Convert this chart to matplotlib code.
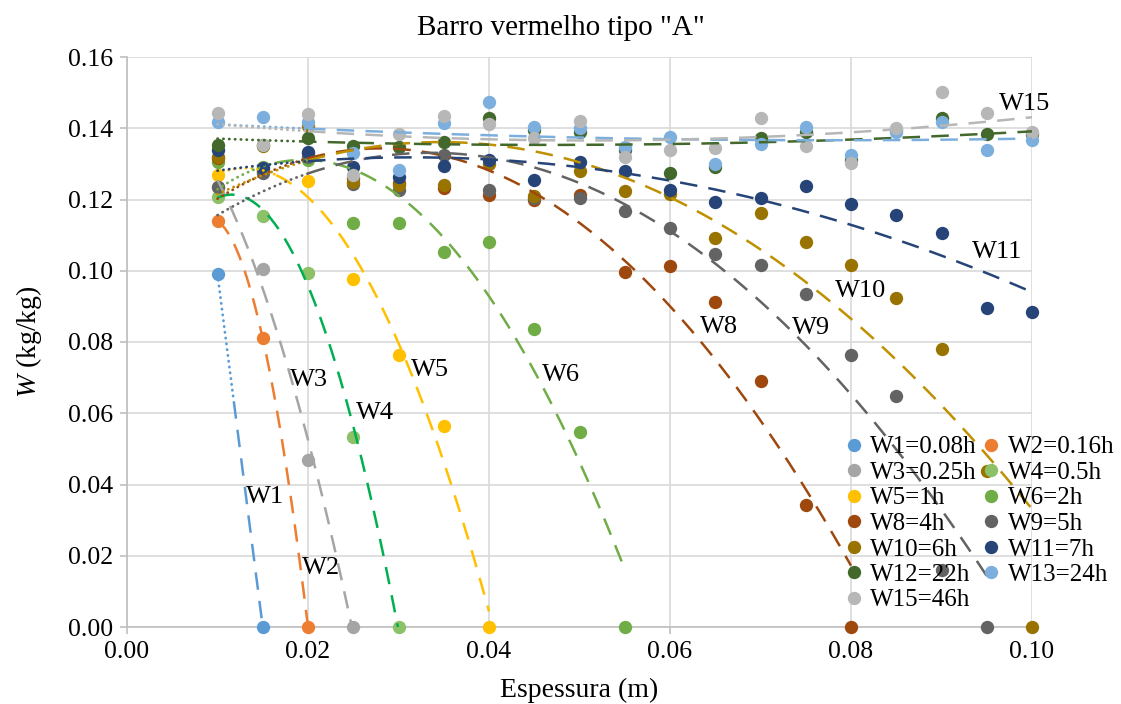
import numpy as np
import matplotlib
matplotlib.use("Agg")
import matplotlib.pyplot as plt

plt.rcParams['font.family'] = ['Liberation Serif', 'DejaVu Serif']
plt.rcParams['mathtext.fontset'] = 'custom'
plt.rcParams['mathtext.it'] = 'Liberation Serif:italic'
plt.rcParams['mathtext.rm'] = 'Liberation Serif'

# ---------------- data ----------------
thickness = [0.010, 0.015, 0.020, 0.025, 0.030, 0.035, 0.040, 0.045, 0.050, 0.055,
             0.060, 0.065, 0.070, 0.075, 0.080, 0.085, 0.090, 0.095, 0.100]

names = ["W1", "W2", "W3", "W4", "W5", "W6", "W8", "W9", "W10", "W11", "W12", "W13", "W15"]
legend_labels = ["W1=0.08h", "W2=0.16h", "W3=0.25h", "W4=0.5h", "W5=1h", "W6=2h", "W8=4h",
                 "W9=5h", "W10=6h", "W11=7h", "W12=22h", "W13=24h", "W15=46h"]

W1 = [0.099, 0.0]
W2 = [0.114, 0.081, 0.0]
W3 = [0.1236, 0.1005, 0.047, 0.0]
W4 = [0.1207, 0.1155, 0.0993, 0.0533, 0.0]
W5 = [0.127, 0.128, 0.1253, 0.0977, 0.0764, 0.0564, 0.0]
W6 = [0.1306, 0.129, 0.131, 0.1134, 0.1133, 0.1053, 0.1082, 0.0837, 0.0547, 0.0]
W8 = [0.1316, 0.128, 0.133, 0.126, 0.1245, 0.1233, 0.1213, 0.120, 0.1213, 0.0997, 0.1013,
      0.0912, 0.069, 0.0342, 0.0]
W9 = [0.1236, 0.1274, 0.132, 0.1244, 0.1227, 0.1325, 0.1227, 0.1205, 0.1203, 0.1168, 0.1119,
      0.1047, 0.1016, 0.0935, 0.0763, 0.0648, 0.016, 0.0]
W10 = [0.132, 0.135, 0.1405, 0.125, 0.124, 0.124, 0.130, 0.121, 0.128, 0.1225, 0.1215,
       0.1093, 0.1161, 0.1082, 0.1016, 0.0923, 0.078, 0.0438, 0.0]
W11 = [0.134, 0.1288, 0.1334, 0.1291, 0.1264, 0.1295, 0.1311, 0.1255, 0.1306, 0.128, 0.1227,
       0.1192, 0.1205, 0.1239, 0.1186, 0.1157, 0.1105, 0.0895, 0.0884]
W12 = [0.1353, 0.1353, 0.1372, 0.135, 0.1348, 0.136, 0.1428, 0.1395, 0.139, 0.134, 0.1273,
       0.129, 0.1374, 0.139, 0.131, 0.1395, 0.143, 0.1383, 0.1385]
W13 = [0.1418, 0.1432, 0.1418, 0.133, 0.1283, 0.1414, 0.1475, 0.1404, 0.14, 0.1348, 0.1376,
       0.1299, 0.1355, 0.1404, 0.1325, 0.139, 0.1418, 0.1339, 0.1367]
W15 = [0.1444, 0.1353, 0.144, 0.1269, 0.1383, 0.1433, 0.1411, 0.1374, 0.142, 0.1318, 0.1339,
       0.1344, 0.1428, 0.1351, 0.1303, 0.14, 0.1501, 0.1442, 0.139]

series = [W1, W2, W3, W4, W5, W6, W8, W9, W10, W11, W12, W13, W15]

# thickness where the dotted part of each trendline turns into the dashed part
trend_break = [0.0118, 0.010, 0.010, 0.010, 0.0165, 0.0165, 0.020, 0.020, 0.020, 0.020,
               0.019, 0.020, 0.020]

# curve labels: (text, x, y)
curve_labels = [("W1", 0.01525, 0.0365), ("W2", 0.0214, 0.0166), ("W3", 0.0201, 0.0693),
                ("W4", 0.0274, 0.0600), ("W5", 0.0335, 0.0721), ("W6", 0.0480, 0.0707),
                ("W8", 0.0654, 0.0842), ("W9", 0.0756, 0.0839), ("W10", 0.0811, 0.0943),
                ("W11", 0.0961, 0.1053), ("W15", 0.0992, 0.1468)]

marker_colors = ["#5B9BD5", "#ED7D31", "#A5A5A5", "#8CC168", "#FFC000", "#70AD47", "#9E480E",
                 "#636363", "#997300", "#264478", "#43682B", "#7CAFDD", "#B7B7B7"]
line_colors = ["#5B9BD5", "#ED7D31", "#A5A5A5", "#00B050", "#FFC000", "#70AD47", "#9E480E",
               "#636363", "#BF9000", "#264478", "#43682B", "#7CAFDD", "#B7B7B7"]

# ---------------- figure ----------------
W, H = 1121, 704
fig = plt.figure(figsize=(W / 100, H / 100), dpi=100)
ax = fig.add_axes([127 / W, 1 - 627 / H, (1032 - 127) / W, (627 - 57) / H])

ax.set_xlim(0, 0.10)
ax.set_ylim(0, 0.16)
xt = np.arange(0, 0.1001, 0.02)
yt = np.arange(0, 0.1601, 0.02)
ax.set_xticks(xt)
ax.set_yticks(yt)
ax.set_xticklabels([f"{v:.2f}" for v in xt])
ax.set_yticklabels([f"{v:.2f}" for v in yt])
ax.grid(True, color="#D9D9D9", linewidth=1.2, zorder=0)
ax.set_axisbelow(True)
for side in ["top", "right"]:
    ax.spines[side].set_visible(False)
for side in ["left", "bottom"]:
    ax.spines[side].set_color("#BFBFBF")
    ax.spines[side].set_linewidth(1.2)
ax.tick_params(axis="both", colors="#BFBFBF", length=5, width=1.2, labelcolor="black",
               labelsize=18.5, pad=5)

# markers
handles = []
for i, (vals, mc) in enumerate(zip(series, marker_colors)):
    xs = thickness[:len(vals)]
    h, = ax.plot(xs, vals, linestyle="none", marker="o", ms=9.6, color=mc,
                 markeredgewidth=0, zorder=3 + i * 0.01, clip_on=False)
    handles.append(h)

# polynomial trendlines (dotted start, long-dash remainder)
for vals, lc, brk in zip(series, line_colors, trend_break):
    xs = np.array(thickness[:len(vals)])
    ys = np.array(vals)
    deg = min(2, len(xs) - 1)
    coef = np.polyfit(xs, ys, deg)
    if brk > xs[0]:
        xd = np.linspace(xs[0], brk, 60)
        ax.plot(xd, np.polyval(coef, xd), color=lc, lw=2.0,
                linestyle=(0, (0.1, 2.0)), dash_capstyle="round", zorder=5)
    xl = np.linspace(max(brk, xs[0]), xs[-1], 300)
    ax.plot(xl, np.polyval(coef, xl), color=lc, lw=1.8,
            linestyle=(0, (7, 4.5)), dash_capstyle="butt", zorder=5)

for txt, x, y in curve_labels:
    ax.text(x, y, txt, fontsize=19, ha="center", va="center", zorder=6)

fig.text(0.5, 1 - 28 / H, 'Barro vermelho tipo "A"', fontsize=21, ha="center", va="center")
ax.set_xlabel("Espessura (m)", fontsize=20, labelpad=11)
ax.set_ylabel(r"$\mathit{W}$ (kg/kg)", fontsize=20, labelpad=17)

# legend (row-major order in two columns)
order = [0, 2, 4, 6, 8, 10, 12, 1, 3, 5, 7, 9, 11]
leg = fig.legend([handles[k] for k in order], [legend_labels[k] for k in order],
                 ncol=2, loc="upper left", bbox_to_anchor=(846 / W, 1 - 436 / H),
                 frameon=False, fontsize=18, handlelength=0.6, handletextpad=0.35,
                 columnspacing=0.3, labelspacing=0.12, borderpad=0, borderaxespad=0)

fig.savefig("out.png", dpi=100)
